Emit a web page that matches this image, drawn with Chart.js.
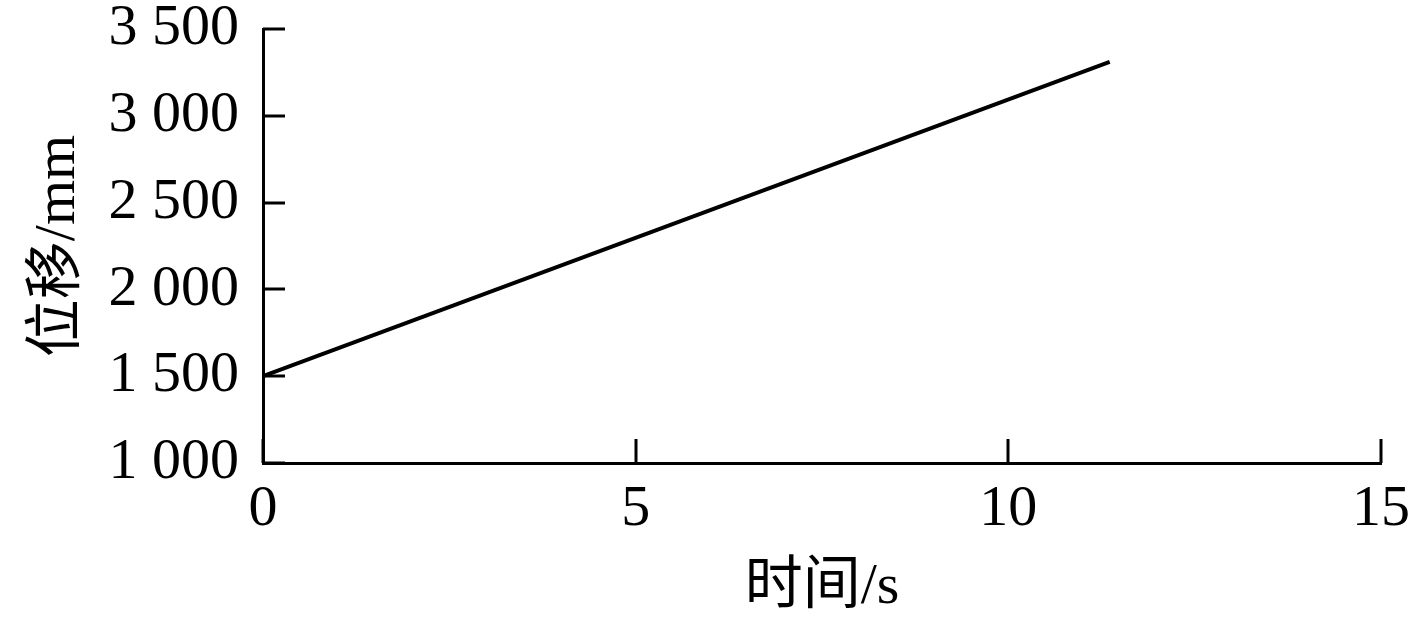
<!DOCTYPE html>
<html>
<head>
<meta charset="utf-8">
<script src="https://cdn.jsdelivr.net/npm/chart.js@4.4.0/dist/chart.umd.min.js"></script>
<style>
html,body{margin:0;padding:0;background:#fff;}
#wrap{width:1413px;height:623px;position:relative;}
</style>
</head>
<body>
<div id="wrap"><canvas id="c" width="1413" height="623"></canvas></div>
<script>
const timeValues = [0, 11.36];
const displacementValues = [1500, 3310];
const xTickValues = [0, 5, 10, 15];
const yTickValues = [1000, 1500, 2000, 2500, 3000, 3500];
const yTickLabels = ['1 000', '1 500', '2 000', '2 500', '3 000', '3 500'];
const xTitle = '时间/s';
const yTitle = '位移/mm';

const FONT = '"Liberation Serif", "Noto Sans CJK SC", serif';

const inwardTicks = {
  id: 'inwardTicks',
  afterDraw(chart) {
    const ctx = chart.ctx;
    const xs = chart.scales.x, ys = chart.scales.y;
    const area = chart.chartArea;
    ctx.save();
    ctx.strokeStyle = '#000';
    ctx.lineWidth = 3;
    ctx.lineCap = 'butt';
    xTickValues.forEach(v => {
      const px = Math.round(xs.getPixelForValue(v));
      ctx.beginPath();
      ctx.moveTo(px, area.bottom);
      ctx.lineTo(px, area.bottom - 24);
      ctx.stroke();
    });
    yTickValues.forEach(v => {
      const py = Math.round(ys.getPixelForValue(v));
      ctx.beginPath();
      ctx.moveTo(area.left, py);
      ctx.lineTo(area.left + 22, py);
      ctx.stroke();
    });
    ctx.restore();
  }
};

new Chart(document.getElementById('c'), {
  type: 'scatter',
  data: {
    datasets: [{
      data: timeValues.map((t, i) => ({x: t, y: displacementValues[i]})),
      showLine: true,
      borderColor: '#000',
      borderWidth: 4,
      pointRadius: 0,
      fill: false,
      tension: 0
    }]
  },
  options: {
    responsive: false,
    animation: false,
    layout: {padding: {top: 29, right: 32, left: 0, bottom: 0}},
    plugins: {legend: {display: false}, tooltip: {enabled: false}},
    scales: {
      x: {
        type: 'linear',
        min: 0, max: 15,
        afterBuildTicks: s => { s.ticks = xTickValues.map(v => ({value: v})); },
        afterFit: s => { s.height = 160; s.paddingLeft = 0; s.paddingRight = 0; },
        grid: {display: false, drawTicks: false},
        border: {display: true, color: '#000', width: 3},
        ticks: {color: '#000', font: {family: FONT, size: 58}, padding: 12, maxRotation: 0, autoSkip: false},
        title: {display: true, text: xTitle, color: '#000', font: {family: FONT, size: 58}, padding: {top: 0, bottom: 0}}
      },
      y: {
        type: 'linear',
        min: 1000, max: 3500,
        afterBuildTicks: s => { s.ticks = yTickValues.map(v => ({value: v})); },
        afterFit: s => { s.width = 263; s.paddingTop = 0; s.paddingBottom = 0; },
        grid: {display: false, drawTicks: false},
        border: {display: true, color: '#000', width: 3},
        ticks: {
          color: '#000', font: {family: FONT, size: 58}, padding: 24, autoSkip: false,
          callback: (v) => { const i = yTickValues.indexOf(v); return i >= 0 ? yTickLabels[i] : ''; }
        },
        title: {display: true, text: yTitle, color: '#000', font: {family: FONT, size: 58}, padding: {top: 24, bottom: 0}}
      }
    }
  },
  plugins: [inwardTicks]
});
</script>
</body>
</html>
